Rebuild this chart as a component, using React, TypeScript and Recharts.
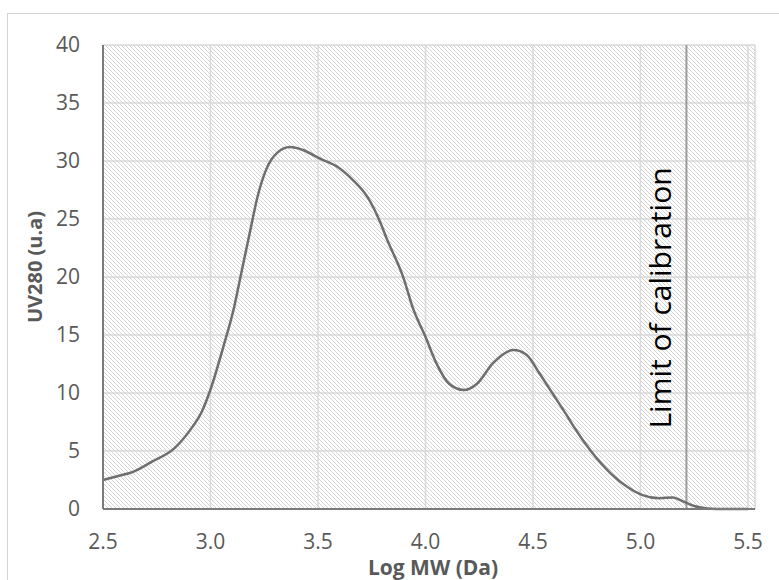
import { LineChart, Line, XAxis, YAxis, CartesianGrid, ReferenceLine, Label } from 'recharts';

// Log MW (Da) positions
const logMw = [
  2.5, 2.57, 2.64, 2.73, 2.83, 2.905, 2.96, 3.0, 3.06, 3.11, 3.145, 3.185, 3.22, 3.26, 3.31, 3.37,
  3.43, 3.51, 3.59, 3.66, 3.73, 3.79, 3.82, 3.9, 3.94, 4.0, 4.05, 4.11, 4.18, 4.24, 4.315, 4.41,
  4.47, 4.53, 4.59, 4.66, 4.69, 4.765, 4.86, 4.94, 5.01, 5.09, 5.15, 5.2, 5.25, 5.31, 5.4, 5.5,
];

// UV280 (u.a) at each position
const uv280 = [
  2.5, 2.85, 3.2, 4.1, 5.2, 6.8, 8.4, 10.3, 14.0, 17.4, 20.5, 24.0, 27.0, 29.3, 30.7, 31.2,
  30.95, 30.2, 29.5, 28.4, 26.9, 24.7, 23.3, 19.8, 17.4, 14.85, 12.6, 10.8, 10.26, 10.8, 12.6, 13.7,
  13.3, 11.7, 10.0, 8.0, 7.1, 5.1, 3.1, 1.9, 1.2, 0.92, 1.0, 0.63, 0.26, 0.05, 0, 0,
];

const xTicks = [2.5, 3.0, 3.5, 4.0, 4.5, 5.0, 5.5];
const yTicks = [0, 5, 10, 15, 20, 25, 30, 35, 40];
const calibrationLimit = 5.214;

const chartData = logMw.map((x, i) => ({ x, uv: uv280[i] }));

const FONT = '"Open Sans", sans-serif';
const TICK_STYLE = { fontSize: 21, fill: '#595959', fontFamily: FONT };

export default function App(): JSX.Element {
  return (
    <div style={{ position: 'absolute', left: 0, top: 0, width: 779, height: 580, background: '#fff', overflow: 'hidden' }}>
      <div
        style={{
          position: 'absolute',
          left: 7,
          top: 13,
          width: 790,
          height: 600,
          border: '1px solid #d4d4d4',
        }}
      />
      <div style={{ position: 'absolute', left: 0, top: 0 }}>
        <LineChart width={779} height={580} data={chartData} margin={{ top: 45, right: 24, bottom: 0, left: 0 }}>
          <defs>
            <pattern id="hatch" width="4" height="4" patternUnits="userSpaceOnUse">
              <rect width="4" height="4" fill="#ffffff" />
              <path d="M-1,-1 L5,5 M-1,3 L1,5 M3,-1 L5,1" stroke="#d3d3d3" strokeWidth={1} />
            </pattern>
          </defs>
          <CartesianGrid stroke="#d9d9d9" strokeWidth={1.5} fill="url(#hatch)" fillOpacity={1} />
          <XAxis
            dataKey="x"
            type="number"
            domain={[2.5, 5.533]}
            ticks={xTicks}
            tickFormatter={(v: number) => v.toFixed(1)}
            height={71}
            tickLine={false}
            tickSize={0}
            tickMargin={25}
            axisLine={{ stroke: '#7a7a7a', strokeWidth: 2 }}
            tick={TICK_STYLE}
          >
            <Label
              content={({ viewBox }: any) => (
                <text
                  x={viewBox.x + viewBox.width / 2 + 4}
                  y={viewBox.y + viewBox.height - 5}
                  textAnchor="middle"
                  fontFamily={FONT}
                  fontWeight="bold"
                  fontSize={21}
                  fill="#595959"
                >
                  Log MW (Da)
                </text>
              )}
            />
          </XAxis>
          <YAxis
            type="number"
            domain={[0, 40]}
            ticks={yTicks}
            width={103}
            tickLine={false}
            tickSize={0}
            tickMargin={23}
            axisLine={{ stroke: '#7a7a7a', strokeWidth: 2 }}
            tick={TICK_STYLE}
          >
            <Label
              content={({ viewBox }: any) => {
                const cx = viewBox.x + 34;
                const cy = viewBox.y + viewBox.height / 2 - 10;
                return (
                  <text
                    x={cx}
                    y={cy}
                    transform={`rotate(-90 ${cx} ${cy})`}
                    textAnchor="middle"
                    dominantBaseline="central"
                    fontFamily={FONT}
                    fontWeight="bold"
                    fontSize={20}
                    fill="#595959"
                  >
                    UV280 (u.a)
                  </text>
                );
              }}
            />
          </YAxis>
          <ReferenceLine x={calibrationLimit} stroke="#9a9a9a" strokeWidth={2}>
            <Label
              content={({ viewBox }: any) => {
                const cx = viewBox.x - 15;
                const cy = viewBox.y + viewBox.height / 2 + 21;
                return (
                  <text
                    x={cx}
                    y={cy}
                    transform={`rotate(-90 ${cx} ${cy})`}
                    textAnchor="middle"
                    fontFamily={FONT}
                    fontSize={30}
                    fill="#000000"
                  >
                    Limit of calibration
                  </text>
                );
              }}
            />
          </ReferenceLine>
          <Line
            type="monotone"
            dataKey="uv"
            stroke="#6e6e6e"
            strokeWidth={2.5}
            dot={false}
            isAnimationActive={false}
          />
        </LineChart>
      </div>
    </div>
  );
}
